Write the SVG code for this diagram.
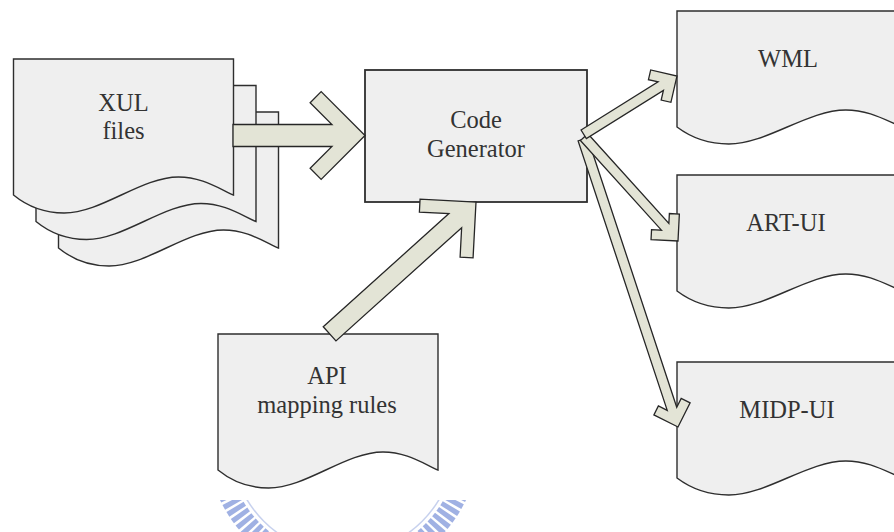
<svg xmlns="http://www.w3.org/2000/svg" width="894" height="532" viewBox="0 0 894 532">
  <style>
    .doc { fill: #efefef; stroke: #2e2e2e; stroke-width: 1.4; }
    .box { fill: #efefef; stroke: #2e2e2e; stroke-width: 1.8; }
    .arrow { fill: #e3e4d6; stroke: #262626; stroke-width: 1.3; stroke-linejoin: miter; }
    .label { font-family: "Liberation Serif", "Times New Roman", serif; font-size: 24.5px; fill: #333333; text-anchor: middle; }
    .seal { fill: none; stroke: #8fa3de; }
  </style>
  <defs>
    <!-- document sheet with wavy bottom edge, 220 x 136 -->
    <path id="docA" d="M0,0 H220 V136 C202.4,127.9 187,118 165,118 C127.6,118 88,154 50.6,154 C26.4,154 11,145 0,136 Z"/>
    <!-- wider, shorter sheet for the generated outputs, 225 x 116 -->
    <path id="docB" d="M0,0 H225 V116 C207,108.4 191.3,99 168.8,99 C130.5,99 90,133 51.8,133 C27,133 11.3,124.5 0,116 Z"/>
    <clipPath id="sealClip">
      <rect x="0" y="500" width="894" height="32"/>
    </clipPath>
  </defs>

  <rect x="0" y="0" width="894" height="532" fill="#ffffff"/>

  <!-- faint seal at the bottom edge -->
  <g id="seal" clip-path="url(#sealClip)">
    <circle class="seal" cx="343" cy="442" r="126" stroke-width="20" stroke-dasharray="5 2.5" opacity="0.85"/>
    <circle class="seal" cx="343" cy="442" r="112" stroke-width="1.5" opacity="0.5"/>
  </g>

  <!-- XUL source files (stack of three sheets) -->
  <g id="xul-files">
    <use href="#docA" class="doc" transform="translate(58.5,112)"/>
    <use href="#docA" class="doc" transform="translate(36,85.5)"/>
    <use href="#docA" class="doc" transform="translate(13.5,59)"/>
    <text class="label" x="123.5" y="111">XUL</text>
    <text class="label" x="123.5" y="139">files</text>
  </g>

  <!-- code generator -->
  <g id="code-generator">
    <rect class="box" x="365" y="70" width="222" height="132"/>
    <text class="label" x="476" y="128">Code</text>
    <text class="label" x="476" y="157">Generator</text>
  </g>

  <!-- API mapping rules -->
  <g id="api-rules">
    <use href="#docA" class="doc" transform="translate(218,334)"/>
    <text class="label" x="327" y="384">API</text>
    <text class="label" x="327" y="413">mapping rules</text>
  </g>

  <!-- generated outputs -->
  <g id="wml">
    <use href="#docB" class="doc" transform="translate(677,11)"/>
    <text class="label" x="788" y="67">WML</text>
  </g>
  <g id="art-ui">
    <use href="#docB" class="doc" transform="translate(677,175)"/>
    <text class="label" x="786" y="231">ART-UI</text>
  </g>
  <g id="midp-ui">
    <use href="#docB" class="doc" transform="translate(677,362)"/>
    <text class="label" x="787" y="418">MIDP-UI</text>
  </g>

  <!-- block arrows, tip at the local origin pointing along +x -->
  <g id="connectors">
    <polygon class="arrow" transform="translate(365,135.5)"
      points="-132,-11 -33.06,-11 -54.87,-32.81 -43.84,-43.84 0,0 -43.84,43.84 -54.87,32.81 -33.06,11 -132,11"/>
    <polygon class="arrow" transform="translate(476,202) rotate(-42)"
      points="-197,-9.5 -27.88,-9.5 -48.79,-30.41 -39.6,-39.6 0,0 -39.6,39.6 -48.79,30.41 -27.88,9.5 -197,9.5"/>
    <polygon class="arrow" transform="translate(678,427) rotate(71.7)"
      points="-303,-5 -19.14,-5 -26.16,-12.02 -19.09,-19.09 0,0 -19.09,19.09 -26.16,12.02 -19.14,5 -303,5"/>
    <polygon class="arrow" transform="translate(678,241) rotate(47.9)"
      points="-140,-5 -19.14,-5 -26.16,-12.02 -19.09,-19.09 0,0 -19.09,19.09 -26.16,12.02 -19.14,5 -140,5"/>
    <polygon class="arrow" transform="translate(677,76) rotate(-32)"
      points="-110,-5 -19.14,-5 -26.16,-12.02 -19.09,-19.09 0,0 -19.09,19.09 -26.16,12.02 -19.14,5 -110,5"/>
  </g>
</svg>
